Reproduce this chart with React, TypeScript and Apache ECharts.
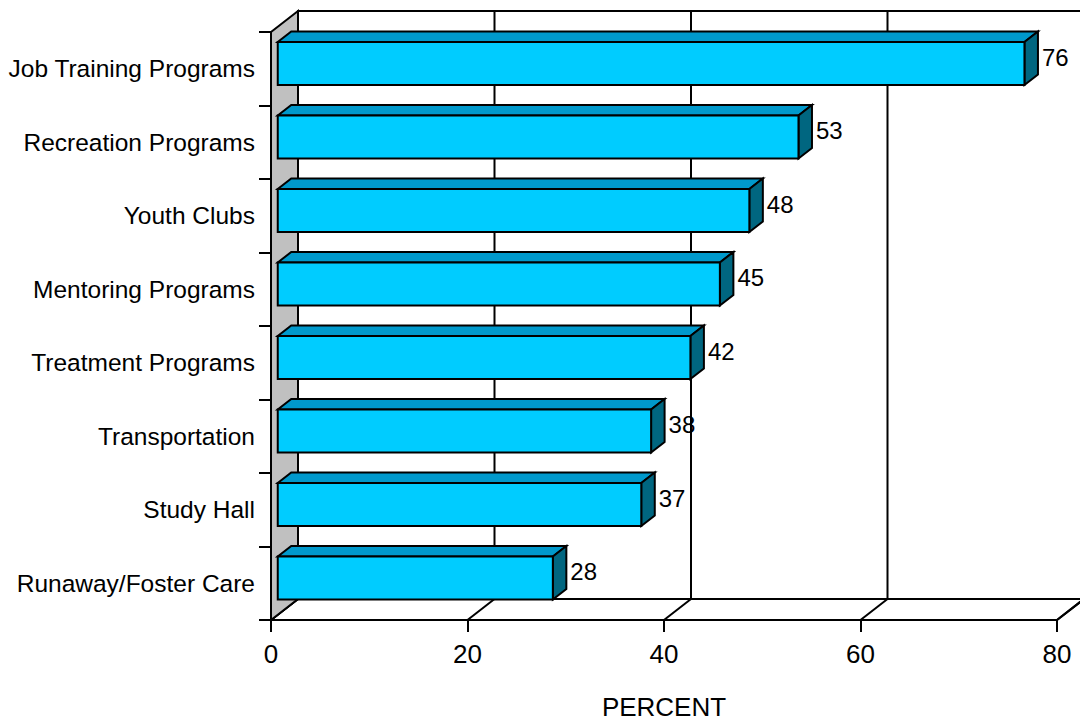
import React, { useEffect, useRef } from "react";
import * as echarts from "echarts";

// Survey results: share of respondents naming each program type
const categories = [
  "Job Training Programs",
  "Recreation Programs",
  "Youth Clubs",
  "Mentoring Programs",
  "Treatment Programs",
  "Transportation",
  "Study Hall",
  "Runaway/Foster Care",
];
const percents = [76, 53, 48, 45, 42, 38, 37, 28];
const xTicks = [0, 20, 40, 60, 80];
const axisTitle = "PERCENT";

const WIDTH = 1080;
const HEIGHT = 721;

// Pseudo-3D box: depth vector of the walls in pixels
const DX = 27;
const DY = -21;
// Bars sit in the middle of the depth
const BAR_FRONT = 0.25;
const BAR_BACK = 0.75;
const BAR_THICK = 0.585;

const FONT = '"Liberation Sans", Arial, Helvetica, sans-serif';
const LINE = 2;

export default function App() {
  const ref = useRef<HTMLDivElement>(null);

  useEffect(() => {
    if (!ref.current) return;
    const chart = echarts.init(ref.current, undefined, {
      renderer: "svg",
      width: WIDTH,
      height: HEIGHT,
    });

    const frameItem = (params: any, api: any) => {
      const cs = params.coordSys;
      const left = cs.x;
      const top = cs.y;
      const right = cs.x + cs.width;
      const bottom = cs.y + cs.height;
      const stroke = { stroke: "#000", lineWidth: LINE };
      const children: any[] = [];
      // back wall
      children.push({
        type: "polygon",
        shape: {
          points: [
            [left + DX, top + DY],
            [right + DX, top + DY],
            [right + DX, bottom + DY],
            [left + DX, bottom + DY],
          ],
        },
        style: { fill: "#fff", ...stroke },
      });
      // floor
      children.push({
        type: "polygon",
        shape: {
          points: [
            [left, bottom],
            [right, bottom],
            [right + DX, bottom + DY],
            [left + DX, bottom + DY],
          ],
        },
        style: { fill: "#fff", ...stroke },
      });
      // grid lines on the back wall and their continuation across the floor
      xTicks.forEach((t) => {
        const x = api.coord([t, 0])[0];
        children.push({
          type: "line",
          shape: { x1: x + DX, y1: top + DY, x2: x + DX, y2: bottom + DY },
          style: { ...stroke },
        });
        children.push({
          type: "line",
          shape: { x1: x, y1: bottom, x2: x + DX, y2: bottom + DY },
          style: { ...stroke },
        });
      });
      // grey side wall
      children.push({
        type: "polygon",
        shape: {
          points: [
            [left, top],
            [left + DX, top + DY],
            [left + DX, bottom + DY],
            [left, bottom],
          ],
        },
        style: { fill: "#c0c0c0", ...stroke },
      });
      return { type: "group", children };
    };

    const barItem = (params: any, api: any) => {
      const v = api.value(0);
      const idx = api.value(1);
      const [xEnd, yc] = api.coord([v, idx]);
      const [xStart] = api.coord([0, idx]);
      const band = api.size([0, 1])[1];
      const h = band * BAR_THICK;
      const fx = DX * BAR_FRONT;
      const fy = DY * BAR_FRONT;
      const bx = DX * BAR_BACK;
      const by = DY * BAR_BACK;
      const t0 = yc + fy - h / 2;
      const b0 = yc + fy + h / 2;
      const t1 = yc + by - h / 2;
      const b1 = yc + by + h / 2;
      const stroke = { stroke: "#000", lineWidth: LINE, lineJoin: "miter" };
      return {
        type: "group",
        children: [
          {
            type: "polygon",
            shape: {
              points: [
                [xStart + fx, t0],
                [xEnd + fx, t0],
                [xEnd + bx, t1],
                [xStart + bx, t1],
              ],
            },
            style: { fill: "#0099cc", ...stroke },
          },
          {
            type: "polygon",
            shape: {
              points: [
                [xEnd + fx, t0],
                [xEnd + bx, t1],
                [xEnd + bx, b1],
                [xEnd + fx, b0],
              ],
            },
            style: { fill: "#006680", ...stroke },
          },
          {
            type: "polygon",
            shape: {
              points: [
                [xStart + fx, t0],
                [xEnd + fx, t0],
                [xEnd + fx, b0],
                [xStart + fx, b0],
              ],
            },
            style: { fill: "#00ccff", ...stroke },
          },
          {
            type: "text",
            x: xEnd + bx + 4,
            y: yc + (fy + by) / 2 - 1,
            style: {
              text: String(v),
              fill: "#000",
              fontSize: 24,
              fontFamily: FONT,
              align: "left",
              verticalAlign: "middle",
            },
          },
        ],
      };
    };

    chart.setOption({
      animation: false,
      backgroundColor: "#fff",
      grid: {
        left: 271,
        right: 23,
        top: 32,
        bottom: 101,
        containLabel: false,
        outerBoundsMode: "none",
      },
      xAxis: {
        type: "value",
        min: 0,
        max: 80,
        interval: 20,
        name: axisTitle,
        nameLocation: "middle",
        nameGap: 87,
        nameTextStyle: {
          color: "#000",
          fontSize: 26,
          fontFamily: FONT,
          lineHeight: 24,
          verticalAlign: "middle",
        },
        axisLine: { show: true, lineStyle: { color: "#000", width: LINE } },
        axisTick: { show: true, length: 12, lineStyle: { color: "#000", width: LINE } },
        axisLabel: { color: "#000", fontSize: 26, fontFamily: FONT, margin: 21 },
        splitLine: { show: false },
      },
      yAxis: {
        type: "category",
        data: categories,
        inverse: true,
        axisLine: { show: false },
        axisTick: {
          show: true,
          length: 12,
          alignWithLabel: false,
          lineStyle: { color: "#000", width: LINE },
        },
        axisLabel: { color: "#000", fontSize: 24.5, fontFamily: FONT, margin: 16 },
        splitLine: { show: false },
      },
      series: [
        {
          type: "custom",
          z: 1,
          clip: false,
          silent: true,
          encode: { x: 0, y: 1 },
          data: [[0, 0]],
          renderItem: frameItem,
        },
        {
          type: "custom",
          z: 3,
          clip: false,
          encode: { x: 0, y: 1 },
          data: percents.map((v, i) => [v, i]),
          renderItem: barItem,
        },
      ],
    });

    return () => chart.dispose();
  }, []);

  return (
    <div
      ref={ref}
      style={{
        position: "fixed",
        left: 0,
        top: 0,
        width: WIDTH,
        height: HEIGHT,
        background: "#fff",
      }}
    />
  );
}
